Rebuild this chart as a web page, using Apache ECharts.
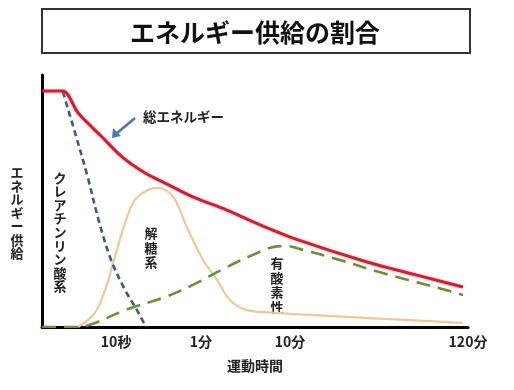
<!DOCTYPE html>
<html>
<head>
<meta charset="utf-8">
<script src="https://cdn.jsdelivr.net/npm/echarts@6.0.0/dist/echarts.min.js"></script>
<style>
html,body{margin:0;padding:0;background:#fff;}
#c{width:514px;height:390px;}
</style>
</head>
<body>
<div id="c"></div>
<script>
// ---- Data (schematic: x = relative exercise time position 0-100, y = relative energy supply 0-100) ----
const titleText = 'エネルギー供給の割合';
const xAxisName = '運動時間';
const yAxisName = 'エネルギー供給';
const xTickPositions = [17.4, 37.3, 58.2, 100];
const xTickLabels = ['10秒', '1分', '10分', '120分'];

const totalEnergy = [[0,93.7],[4.9,93.7],[8.5,84.9],[14.1,75.4],[18.8,67.5],[24.2,61.1],[28.9,57.1],[35.4,51.6],[43.4,46.4],[51.2,40.5],[58.9,35.3],[76.3,25.8],[88.0,20.6],[98.8,15.9]];
const creatinePhosphate = [[4.9,93.3],[7.7,77.4],[10.6,60.3],[13.6,40.5],[16.4,25.8],[19.5,14.7],[22.3,6.7],[24.4,0]];
const glycolysis = [[8.5,0],[12.4,5.6],[14.8,14.7],[17.1,27.8],[19.5,41.3],[21.8,50.4],[24.9,54.4],[27.2,55.2],[30.8,51.6],[34.0,39.7],[37.8,26.6],[41.1,18.7],[44.1,10.7],[48.1,6.7],[55.2,5.6],[62.9,4.8],[98.8,1.6]];
const aerobic = [[0,0],[8.5,0],[12.4,1.6],[19.5,6.7],[28.9,11.9],[35.4,16.7],[43.4,23.8],[49.5,28.6],[54.2,31.7],[57.5,32.1],[61.3,30.6],[68.3,27.4],[80.0,21.4],[96.5,13.9],[98.8,12.7]];

const seriesNames = ['総エネルギー', 'クレアチンリン酸系', '解糖系', '有酸素性'];

const FONT = '"Noto Sans CJK JP", "Noto Sans", sans-serif';
function vtext(s){ return s.split('').join('\n'); }

const chart = echarts.init(document.getElementById('c'), null, {renderer:'canvas'});
chart.setOption({
  animation: false,
  backgroundColor: '#ffffff',
  grid: {left: 42, right: 46, top: 75, bottom: 63, containLabel: false},
  xAxis: {
    type: 'value', min: 0, max: 100,
    axisLine: {show: true, onZero: false, lineStyle: {color: '#000', width: 3}},
    axisTick: {show: false},
    splitLine: {show: false},
    axisLabel: {
      customValues: xTickPositions,
      margin: 8,
      color: '#222', fontSize: 14, fontWeight: 'bold', fontFamily: FONT,
      formatter: function(v){ const i = xTickPositions.indexOf(v); return i >= 0 ? xTickLabels[i] : ''; }
    },
    name: xAxisName, nameLocation: 'middle', nameGap: 32,
    nameTextStyle: {color: '#222', fontSize: 14, fontWeight: 'bold', fontFamily: FONT}
  },
  yAxis: {
    type: 'value', min: 0, max: 100,
    axisLine: {show: true, lineStyle: {color: '#000', width: 3}},
    axisTick: {show: false},
    axisLabel: {show: false},
    splitLine: {show: false}
  },
  series: [
    {name: seriesNames[2], type: 'line', data: glycolysis, smooth: 0.35, symbol: 'none', z: 2,
     lineStyle: {color: '#efc79e', width: 2.2}},
    {name: seriesNames[3], type: 'line', data: aerobic, smooth: 0.35, symbol: 'none', z: 3,
     lineStyle: {color: '#6a8f3c', width: 2.6, type: [14, 8]}},
    {name: seriesNames[1], type: 'line', data: creatinePhosphate, smooth: 0.35, symbol: 'none', z: 4,
     lineStyle: {color: '#3e5a7c', width: 2.6, type: [6, 4]}},
    {name: seriesNames[0], type: 'line', data: totalEnergy, smooth: 0.3, symbol: 'none', z: 5,
     lineStyle: {color: '#d11f2f', width: 3, shadowColor: 'rgba(230,80,100,0.45)', shadowBlur: 3}}
  ],
  graphic: [
    {type: 'rect', shape: {x: 42, y: 9, width: 428, height: 44}, style: {fill: '#fff', stroke: '#333', lineWidth: 2}},
    {type: 'text', x: 255, y: 32, style: {text: titleText, fill: '#111', font: 'bold 25px ' + FONT, textAlign: 'center', textVerticalAlign: 'middle'}},
    {type: 'text', x: 17, y: 213, style: {text: vtext(yAxisName), fill: '#222', font: 'bold 13px ' + FONT, lineHeight: 13.5, textAlign: 'center', textVerticalAlign: 'middle'}},
    {type: 'text', x: 143, y: 117, style: {text: seriesNames[0], fill: '#222', font: 'bold 13.5px ' + FONT, textAlign: 'left', textVerticalAlign: 'middle'}},
    {type: 'line', shape: {x1: 135, y1: 118, x2: 116, y2: 134}, style: {stroke: '#4a78b5', lineWidth: 2.5}},
    {type: 'polygon', shape: {points: [[112, 138], [113, 128], [121, 136]]}, style: {fill: '#4a78b5'}},
    {type: 'text', x: 60, y: 232, style: {text: vtext(seriesNames[1]), fill: '#222', font: 'bold 13px ' + FONT, lineHeight: 13.6, textAlign: 'center', textVerticalAlign: 'middle'}},
    {type: 'text', x: 151, y: 248, style: {text: vtext(seriesNames[2]), fill: '#222', font: 'bold 13px ' + FONT, lineHeight: 14.5, textAlign: 'center', textVerticalAlign: 'middle'}},
    {type: 'text', x: 277, y: 285, style: {text: vtext(seriesNames[3]), fill: '#222', font: 'bold 13px ' + FONT, lineHeight: 14.5, textAlign: 'center', textVerticalAlign: 'middle'}}
  ]
});
</script>
</body>
</html>
